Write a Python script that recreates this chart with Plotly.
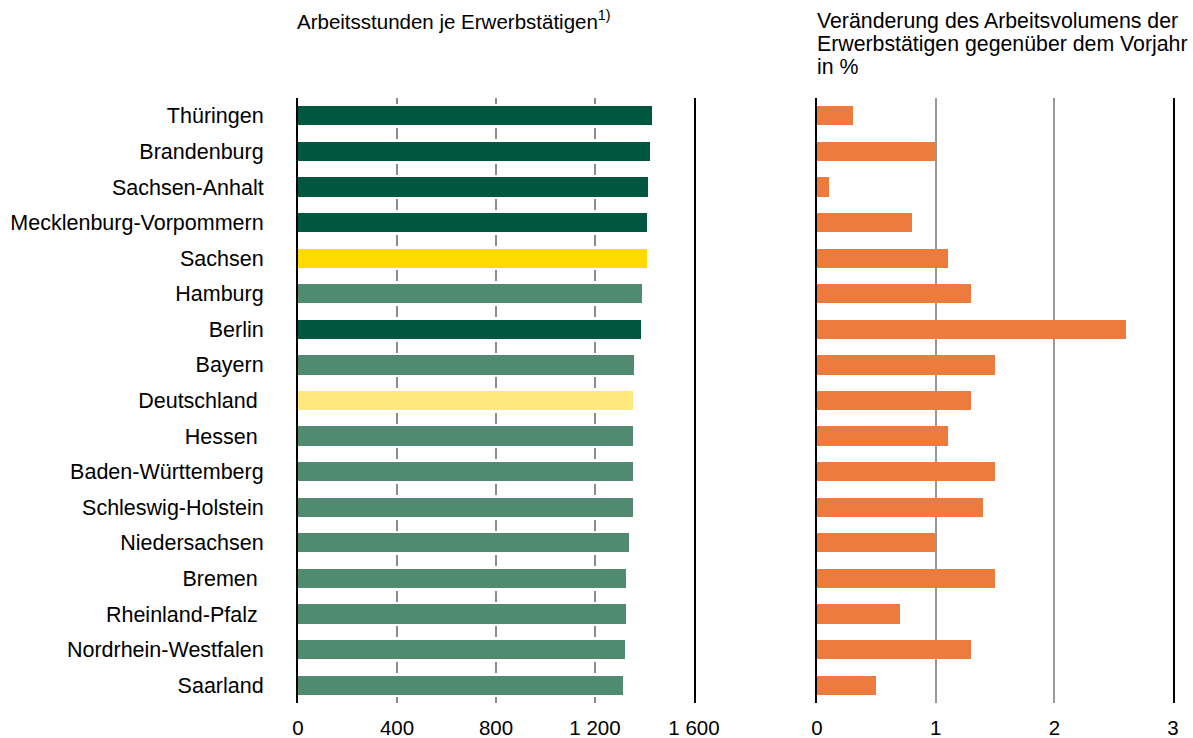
import plotly.graph_objects as go

# ---------------- data ----------------
laender = [
    "Thüringen", "Brandenburg", "Sachsen-Anhalt", "Mecklenburg-Vorpommern",
    "Sachsen", "Hamburg", "Berlin", "Bayern", "Deutschland", "Hessen",
    "Baden-Württemberg", "Schleswig-Holstein", "Niedersachsen", "Bremen",
    "Rheinland-Pfalz", "Nordrhein-Westfalen", "Saarland",
]
arbeitsstunden = [1429, 1424, 1416, 1412, 1412, 1389, 1385, 1359, 1355, 1355,
                  1355, 1352, 1339, 1326, 1326, 1323, 1315]
veraenderung = [0.3, 1.0, 0.1, 0.8, 1.1, 1.3, 2.6, 1.5, 1.3, 1.1,
                1.5, 1.4, 1.0, 1.5, 0.7, 1.3, 0.5]
ost = ["Thüringen", "Brandenburg", "Sachsen-Anhalt", "Mecklenburg-Vorpommern", "Berlin"]
left_ticks = [0, 400, 800, 1200, 1600]
left_ticktext = ["0", "400", "800", "1 200", "1 600"]
right_ticks = [0, 1, 2, 3]
right_ticktext = ["0", "1", "2", "3"]
# labels that carry a trailing blank in the original
trailing_blank = ["Deutschland", "Hessen", "Bremen", "Rheinland-Pfalz"]

# ---------------- styles ----------------
C_OST = "#00563F"
C_WEST = "#508A70"
C_SACHSEN = "#FFDA00"
C_DE = "#FFE97F"
C_ORANGE = "#ED7B3E"

def farbe(name):
    if name == "Sachsen":
        return C_SACHSEN
    if name == "Deutschland":
        return C_DE
    if name in ost:
        return C_OST
    return C_WEST

W, H = 1193, 738
T = 98
B = H - 703
plot_h = H - T - B
period = plot_h / len(laender)
half = 5.5
griddash_left = f"{half}px,{period - 2*half:.3f}px,{half}px,0px"

def fx(pix):  # pixel x -> paper fraction
    return pix / W

def fy(pix):  # pixel y (from top) -> paper fraction
    return (H - B - pix) / plot_h

FONT = "Liberation Sans, Arial, sans-serif"
labels = [n + "\u00a0" if n in trailing_blank else n for n in laender]

fig = go.Figure()
fig.add_trace(go.Bar(
    y=laender, x=arbeitsstunden, orientation="h",
    marker=dict(color=[farbe(n) for n in laender], line=dict(width=0)),
    width=0.54, xaxis="x", yaxis="y", showlegend=False, hoverinfo="x+y",
))
fig.add_trace(go.Bar(
    y=laender, x=veraenderung, orientation="h",
    marker=dict(color=C_ORANGE, line=dict(width=0)),
    width=0.54, xaxis="x2", yaxis="y2", showlegend=False, hoverinfo="x+y",
))

yax_common = dict(
    type="category", categoryorder="array", categoryarray=laender,
    range=[len(laender) - 0.5, -0.5], showgrid=False, zeroline=False,
    showline=True, linecolor="black", linewidth=2, mirror=True,
    fixedrange=True,
)

fig.update_layout(
    width=W, height=H,
    margin=dict(l=0, r=0, t=T, b=B, autoexpand=False),
    paper_bgcolor="white", plot_bgcolor="white",
    font=dict(family=FONT, size=20, color="black"),
    bargap=0,
    xaxis=dict(
        domain=[fx(298), fx(694)], range=[0, 1600], anchor="y",
        tickvals=left_ticks, ticktext=left_ticktext,
        showgrid=True, gridcolor="#8c8c8c", gridwidth=1.6, griddash=griddash_left,
        zeroline=False, showline=False,
        ticks="outside", ticklen=6, tickcolor="rgba(0,0,0,0)",
        tickfont=dict(size=20.5), fixedrange=True,
    ),
    xaxis2=dict(
        domain=[fx(817), fx(1173)], range=[0, 3], anchor="y2",
        tickvals=right_ticks, ticktext=right_ticktext,
        showgrid=True, gridcolor="#999999", gridwidth=1.5,
        zeroline=False, showline=False,
        ticks="outside", ticklen=6, tickcolor="rgba(0,0,0,0)",
        tickfont=dict(size=20.5), fixedrange=True,
    ),
    yaxis=dict(
        anchor="x", **yax_common,
        tickvals=laender, ticktext=labels,
        ticks="outside", ticklen=28, tickcolor="rgba(0,0,0,0)",
        tickfont=dict(size=21.5),
    ),
    yaxis2=dict(anchor="x2", showticklabels=False, ticks="", **yax_common),
)

fig.add_annotation(
    text="Arbeitsstunden je Erwerbstätigen<sup>1)</sup>",
    xref="paper", yref="paper", x=fx(295), y=fy(20),
    xanchor="left", yanchor="middle", showarrow=False,
    font=dict(size=20.5, family=FONT),
)
for i, line in enumerate(["Veränderung des Arbeitsvolumens der",
                          "Erwerbstätigen gegenüber dem Vorjahr",
                          "in %"]):
    fig.add_annotation(
        text=line, xref="paper", yref="paper", x=fx(815), y=fy(21 + i * 23.2),
        xanchor="left", yanchor="middle", showarrow=False,
        font=dict(size=21.3, family=FONT),
    )

fig.write_html(
    "out.html",
    config={"displayModeBar": False},
    post_script=(
        "document.body.style.margin='0';"
        "document.documentElement.style.overflow='hidden';"
        "document.body.style.overflow='hidden';"
    ),
)
